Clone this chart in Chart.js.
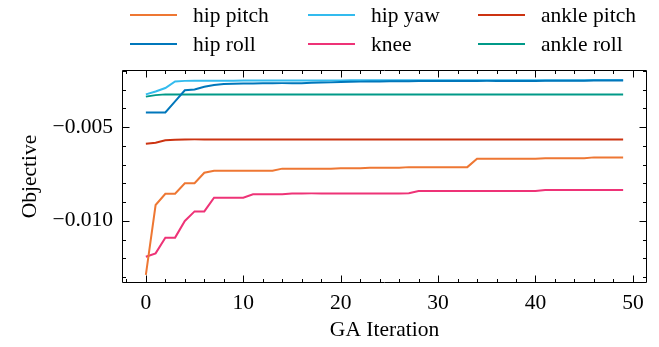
<!DOCTYPE html>
<html>
<head>
<meta charset="utf-8">
<script src="https://cdn.jsdelivr.net/npm/chart.js@4/dist/chart.umd.min.js"></script>
<style>
  html, body { margin:0; padding:0; background:#fff; }
  #wrap { position:relative; width:659px; height:347px; }
  canvas { position:absolute; left:0; top:0; }
  #legend { position:absolute; left:0; top:0; width:659px; height:60px; font-family:"Liberation Serif","DejaVu Serif",serif; font-size:21.5px; color:#000; }
  .item { position:absolute; height:24px; line-height:24px; white-space:nowrap; }
  .swatch { position:absolute; top:11px; width:47px; height:2px; }
  .label { position:absolute; left:63px; top:0; }
</style>
</head>
<body>
<div id="wrap">
  <canvas id="c" width="659" height="347"></canvas>
  <div id="legend"></div>
</div>
<script>
const iterations = Array.from({length:50}, (_, i) => i);

const seriesNames = ["hip pitch", "hip roll", "hip yaw", "knee", "ankle pitch", "ankle roll"];
const seriesColors = ["#EE7733", "#0077BB", "#33BBEE", "#EE3377", "#CC3311", "#009988"];

const hipPitch = [
  -0.01289, -0.00916, -0.00856, -0.00856, -0.00800, -0.00800, -0.00744, -0.00733, -0.00733, -0.00733,
  -0.00733, -0.00733, -0.00733, -0.00733, -0.00722, -0.00722, -0.00722, -0.00722, -0.00722, -0.00722,
  -0.00720, -0.00720, -0.00720, -0.00717, -0.00717, -0.00717, -0.00717, -0.00714, -0.00714, -0.00714,
  -0.00714, -0.00714, -0.00714, -0.00714, -0.00669, -0.00669, -0.00669, -0.00669, -0.00669, -0.00669,
  -0.00669, -0.00667, -0.00667, -0.00667, -0.00667, -0.00667, -0.00662, -0.00662, -0.00662, -0.00662
];
const hipRoll = [
  -0.00422, -0.00422, -0.00422, -0.00363, -0.00304, -0.00300, -0.00285, -0.00276, -0.00271, -0.00269,
  -0.00268, -0.00268, -0.00267, -0.00267, -0.00266, -0.00266, -0.00266, -0.00264, -0.00263, -0.00262,
  -0.00260, -0.00259, -0.00258, -0.00257, -0.00257, -0.00256, -0.00256, -0.00256, -0.00255, -0.00255,
  -0.00255, -0.00255, -0.00255, -0.00255, -0.00255, -0.00254, -0.00254, -0.00254, -0.00254, -0.00254,
  -0.00254, -0.00253, -0.00253, -0.00253, -0.00253, -0.00253, -0.00252, -0.00252, -0.00252, -0.00252
];
const hipYaw = [
  -0.00326, -0.00311, -0.00292, -0.00257, -0.00254, -0.00253, -0.00253, -0.00253, -0.00253, -0.00253,
  -0.00252, -0.00252, -0.00252, -0.00252, -0.00252, -0.00252, -0.00252, -0.00252, -0.00252, -0.00252,
  -0.00252, -0.00251, -0.00251, -0.00251, -0.00251, -0.00251, -0.00251, -0.00251, -0.00251, -0.00251,
  -0.00251, -0.00251, -0.00251, -0.00251, -0.00251, -0.00251, -0.00250, -0.00250, -0.00250, -0.00250,
  -0.00250, -0.00250, -0.00250, -0.00250, -0.00250, -0.00250, -0.00249, -0.00249, -0.00249, -0.00249
];
const knee = [
  -0.01192, -0.01174, -0.01090, -0.01090, -0.01001, -0.00950, -0.00950, -0.00877, -0.00877, -0.00877,
  -0.00877, -0.00859, -0.00859, -0.00859, -0.00859, -0.00855, -0.00855, -0.00854, -0.00854, -0.00854,
  -0.00854, -0.00854, -0.00854, -0.00854, -0.00854, -0.00854, -0.00854, -0.00853, -0.00841, -0.00841,
  -0.00841, -0.00841, -0.00841, -0.00841, -0.00841, -0.00841, -0.00841, -0.00841, -0.00841, -0.00841,
  -0.00841, -0.00836, -0.00836, -0.00836, -0.00836, -0.00836, -0.00836, -0.00836, -0.00836, -0.00836
];
const anklePitch = [
  -0.00589, -0.00584, -0.00571, -0.00568, -0.00567, -0.00566, -0.00566, -0.00566, -0.00566, -0.00566,
  -0.00566, -0.00566, -0.00566, -0.00566, -0.00566, -0.00566, -0.00566, -0.00566, -0.00566, -0.00566,
  -0.00566, -0.00566, -0.00566, -0.00566, -0.00566, -0.00566, -0.00566, -0.00566, -0.00566, -0.00566,
  -0.00566, -0.00566, -0.00566, -0.00566, -0.00566, -0.00566, -0.00566, -0.00566, -0.00566, -0.00566,
  -0.00566, -0.00566, -0.00566, -0.00566, -0.00566, -0.00566, -0.00566, -0.00566, -0.00566, -0.00566
];
const ankleRoll = [
  -0.00338, -0.00330, -0.00326, -0.00326, -0.00326, -0.00326, -0.00326, -0.00326, -0.00326, -0.00326,
  -0.00326, -0.00326, -0.00326, -0.00326, -0.00326, -0.00326, -0.00326, -0.00326, -0.00326, -0.00326,
  -0.00326, -0.00326, -0.00326, -0.00326, -0.00326, -0.00326, -0.00326, -0.00326, -0.00326, -0.00326,
  -0.00326, -0.00326, -0.00326, -0.00326, -0.00326, -0.00326, -0.00326, -0.00326, -0.00326, -0.00326,
  -0.00326, -0.00326, -0.00326, -0.00326, -0.00326, -0.00326, -0.00326, -0.00326, -0.00326, -0.00326
];

const xMajorTicks = [0, 10, 20, 30, 40, 50];
const xMinorTicks = [-2, 2, 4, 6, 8, 12, 14, 16, 18, 22, 24, 26, 28, 32, 34, 36, 38, 42, 44, 46, 48];
const yMajorTicks = [-0.010, -0.005];
const yMinorTicks = [-0.013, -0.012, -0.011, -0.009, -0.008, -0.007, -0.006, -0.004, -0.003, -0.002];
const xTickLabels = ["0", "10", "20", "30", "40", "50"];
const yTickLabels = ["\u22120.010", "\u22120.005"];
const xTitle = "GA Iteration";
const yTitle = "Objective";

const seriesValues = [hipPitch, hipRoll, hipYaw, knee, anklePitch, ankleRoll];

const FONT = "'Liberation Serif', 'DejaVu Serif', serif";
const FSIZE = 21.5;

const frameTicks = {
  id: 'frameTicks',
  afterDatasetsDraw(chart) {
    const {ctx, chartArea: a, scales: {x, y}} = chart;
    ctx.save();
    ctx.strokeStyle = '#000';
    ctx.lineWidth = 1;
    const L = Math.round(a.left) + 0.5, R = Math.round(a.right) - 0.5;
    const T = Math.round(a.top) + 0.5, B = Math.round(a.bottom) - 0.5;
    ctx.beginPath();
    ctx.rect(L, T, R - L, B - T);
    ctx.stroke();
    const seg = (x1, y1, x2, y2) => { ctx.moveTo(x1, y1); ctx.lineTo(x2, y2); };
    ctx.beginPath();
    xMajorTicks.forEach(v => { const p = Math.round(x.getPixelForValue(v)) + 0.5; seg(p, B, p, B - 7); seg(p, T, p, T + 7); });
    xMinorTicks.forEach(v => { const p = Math.round(x.getPixelForValue(v)) + 0.5; seg(p, B, p, B - 3.5); seg(p, T, p, T + 3.5); });
    yMajorTicks.forEach(v => { const p = Math.round(y.getPixelForValue(v)) + 0.5; seg(L, p, L + 7, p); seg(R, p, R - 7, p); });
    yMinorTicks.forEach(v => { const p = Math.round(y.getPixelForValue(v)) + 0.5; seg(L, p, L + 3.5, p); seg(R, p, R - 3.5, p); });
    ctx.stroke();
    ctx.restore();
  }
};

const datasets = seriesNames.map((name, k) => ({
  label: name,
  data: iterations.map((it, i) => ({x: it, y: seriesValues[k][i]})),
  borderColor: seriesColors[k],
  backgroundColor: seriesColors[k],
  borderWidth: 2,
  pointRadius: 0,
  tension: 0,
  fill: false
}));

const chart = new Chart(document.getElementById('c'), {
  type: 'line',
  data: { datasets },
  options: {
    responsive: false,
    animation: false,
    devicePixelRatio: 1,
    layout: { padding: { left: 0, right: 12, top: 70, bottom: 0 } },
    plugins: { legend: { display: false }, tooltip: { enabled: false } },
    scales: {
      x: {
        type: 'linear',
        min: -2.45, max: 51.45,
        grid: { display: false, drawTicks: false },
        border: { display: false },
        afterBuildTicks: s => { s.ticks = xMajorTicks.map(v => ({value: v})); },
        afterFit: s => { s.height = 64; },
        ticks: {
          font: { family: FONT, size: FSIZE }, color: '#000', padding: 7, maxRotation: 0,
          callback: (v) => xTickLabels[xMajorTicks.indexOf(v)]
        },
        title: { display: true, text: xTitle, font: { family: FONT, size: FSIZE }, color: '#000', padding: { top: 0, bottom: 4 } }
      },
      y: {
        type: 'linear',
        min: -0.01332, max: -0.00196,
        grid: { display: false, drawTicks: false },
        border: { display: false },
        afterBuildTicks: s => { s.ticks = yMajorTicks.map(v => ({value: v})); },
        afterFit: s => { s.width = 122; },
        ticks: {
          font: { family: FONT, size: FSIZE }, color: '#000', padding: 9,
          callback: (v) => yTickLabels[yMajorTicks.indexOf(v)]
        },
        title: { display: true, text: yTitle, font: { family: FONT, size: FSIZE }, color: '#000', padding: { top: 17, bottom: 0 } }
      }
    }
  },
  plugins: [frameTicks]
});

// legend in matplotlib column order (3 columns x 2 rows)
const legendPos = [
  {x: 130, y: 3}, {x: 130, y: 32},
  {x: 308, y: 3}, {x: 308, y: 32},
  {x: 478, y: 3}, {x: 478, y: 32}
];
const legendEl = document.getElementById('legend');
chart.data.datasets.forEach((ds, k) => {
  const it = document.createElement('div');
  it.className = 'item';
  it.style.left = legendPos[k].x + 'px';
  it.style.top = legendPos[k].y + 'px';
  const sw = document.createElement('div');
  sw.className = 'swatch';
  sw.style.background = ds.borderColor;
  const lb = document.createElement('span');
  lb.className = 'label';
  lb.textContent = ds.label;
  it.appendChild(sw); it.appendChild(lb);
  legendEl.appendChild(it);
});
</script>
</body>
</html>
